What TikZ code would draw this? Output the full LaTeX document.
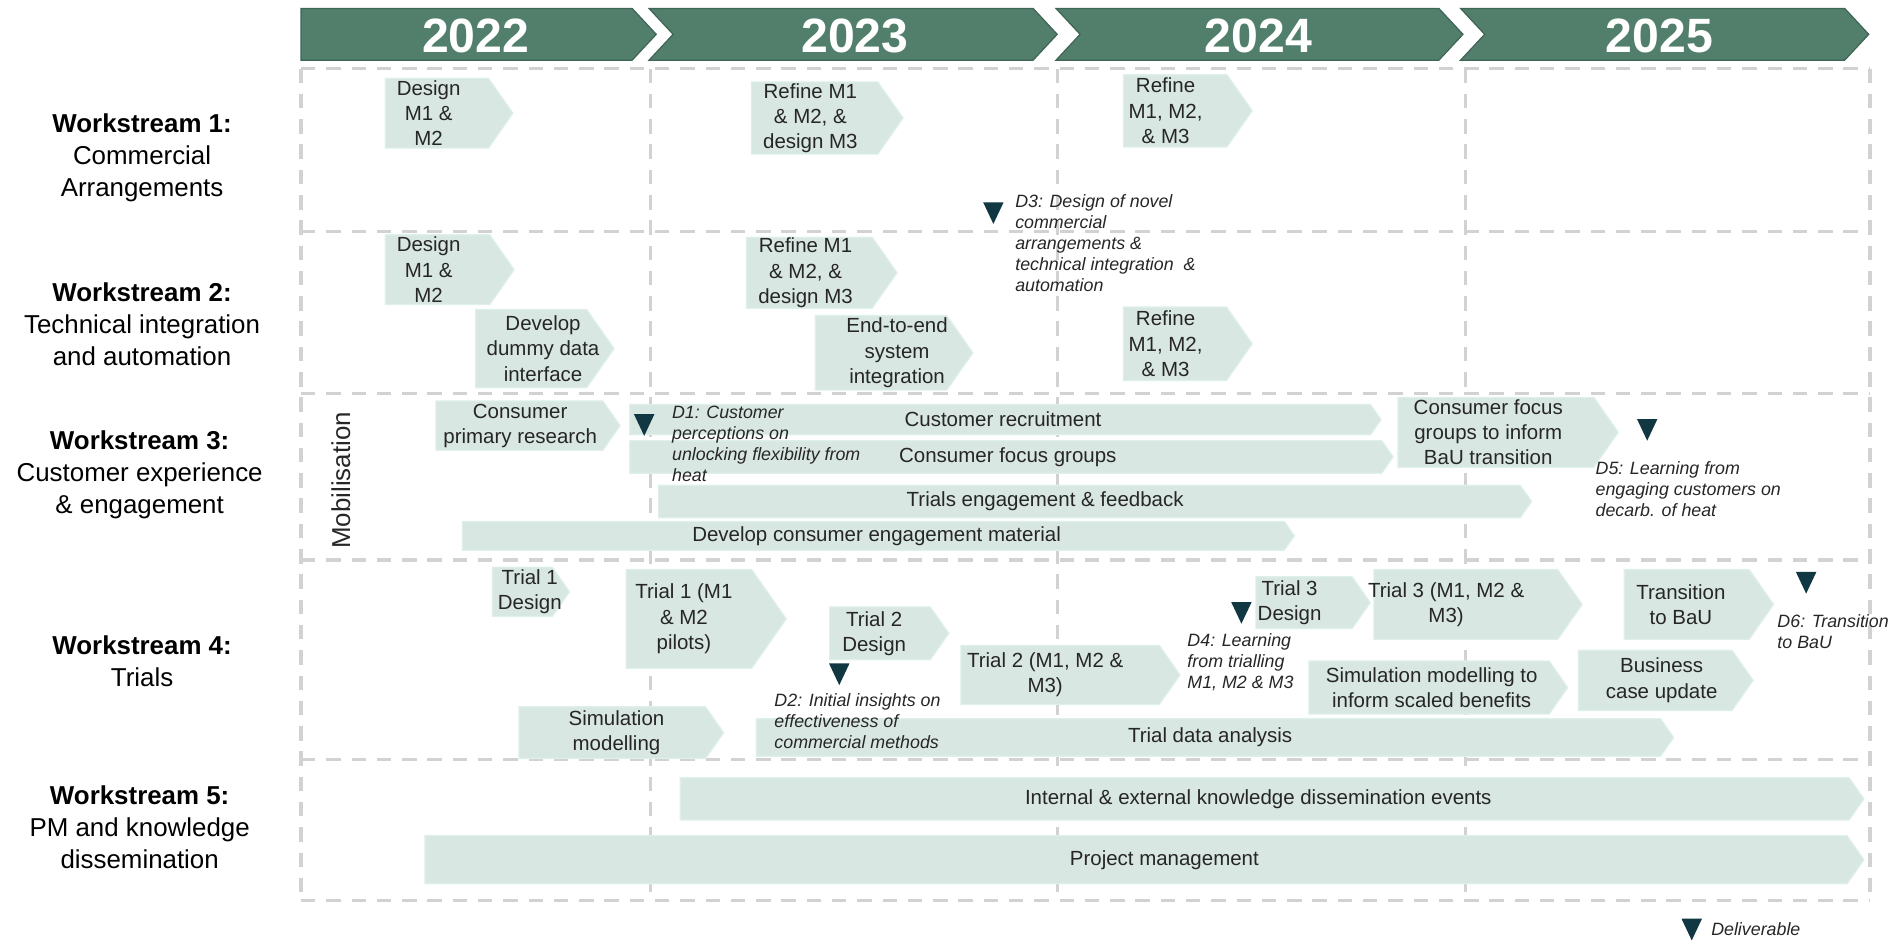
\documentclass[tikz,border=0pt]{standalone}
\usepackage{fontspec}
\setmainfont{Liberation Sans}
\usetikzlibrary{positioning}

\definecolor{bannerfill}{RGB}{81,127,108}
\definecolor{bannerline}{RGB}{62,101,85}
\definecolor{taskfill}{RGB}{217,231,226}
\definecolor{taskline}{RGB}{222,240,235}
\definecolor{delivfill}{RGB}{17,56,66}
\definecolor{gridgray}{RGB}{210,210,210}
\definecolor{txtgray}{RGB}{38,38,38}

\tikzset{
  banner/.style={fill=bannerfill, draw=bannerline, line width=1pt},
  yeartext/.style={text=white, font=\fontsize{40}{48}\selectfont\bfseries, inner sep=0pt},
  gridline/.style={draw=gridgray, line width=2.8pt, dash pattern=on 12pt off 9pt},
  taskbox/.style={fill=taskfill, draw=taskline, line width=1pt},
  tasktext/.style={text=txtgray, font=\fontsize{17}{21}\selectfont, align=center, inner sep=0pt},
  wstext/.style={font=\fontsize{21.5}{26.5}\selectfont, align=center, inner sep=0pt},
  delivtext/.style={text=txtgray, font=\fontsize{14.8}{17.5}\selectfont\itshape, align=left, inner sep=0pt, anchor=north west},
  deliv/.pic={\fill[delivfill] (-8.5,0) -- (8.5,0) -- (0,18) -- cycle;}
}

% name, left, top, tip, bottom, text x, text
\newcommand{\taskbar}[7]{%
  \path[taskbox] (#2,#3) -- ({#4-0.35*(#5-#3)},#3) -- (#4,{(#3+#5)/2})
    -- ({#4-0.35*(#5-#3)},#5) -- (#2,#5) -- cycle;
  \node[tasktext] (#1) at (#6,{(#3+#5)/2}) {#7};}

\begin{document}
\begin{tikzpicture}[x=1pt, y=-1pt]
\useasboundingbox (0,0) rectangle (1568,782);

\foreach \y in {57,192,327,465,631,748}
  \draw[gridline] (250,\y) -- (1553,\y);
\foreach \x in {250,540,878,1217,1553}
  \draw[gridline] (\x,57) -- (\x,748);

\path[banner] (250,7) -- (525,7) -- (545,28.5) -- (525,50) -- (250,50) -- cycle;
\path[banner] (539,7) -- (858,7) -- (878,28.5) -- (858,50) -- (539,50) -- (559,28.5) -- cycle;
\path[banner] (877,7) -- (1195,7) -- (1215,28.5) -- (1195,50) -- (877,50) -- (897,28.5) -- cycle;
\path[banner] (1213,7) -- (1532,7) -- (1552,28.5) -- (1532,50) -- (1213,50) -- (1233,28.5) -- cycle;
\node[yeartext] (y2022) at (395,30) {2022};
\node[yeartext] (y2023) at (710,30) {2023};
\node[yeartext] (y2024) at (1045,30) {2024};
\node[yeartext] (y2025) at (1378,30) {2025};

\begin{scope}[every node/.style={wstext}]
\node (ws1) at (118,131) {\textbf{Workstream 1:}\\Commercial\\Arrangements};
\node (ws2) at (118,269) {\textbf{Workstream 2:}\\Technical integration\\and automation};
\node (ws3) at (116,394) {\textbf{Workstream 3:}\\Customer experience\\\& engagement};
\node (ws4) at (118,549.5) {\textbf{Workstream 4:}\\Trials};
\node (ws5) at (116,687) {\textbf{Workstream 5:}\\PM and knowledge\\dissemination};
\end{scope}

\node[rotate=90, font=\fontsize{21.5}{26}\selectfont, text=txtgray, inner sep=0pt] (mobil) at (283,399) {Mobilisation};

\taskbar{ws1design}{320}{65}{426}{123}{356}{Design\\M1 \&\\M2}
\taskbar{ws1refine}{624}{68}{750}{128}{673}{Refine M1\\\& M2, \&\\design M3}
\taskbar{ws1refinetwo}{933}{62}{1040}{122}{968}{Refine\\M1, M2,\\\& M3}

\taskbar{ws2design}{320}{195}{427}{253}{356}{Design\\M1 \&\\M2}
\taskbar{ws2refine}{620}{197}{745}{256}{669}{Refine M1\\\& M2, \&\\design M3}
\taskbar{dummy}{395}{257}{510}{322}{451}{Develop\\dummy data\\interface}
\taskbar{endtoend}{677}{262}{808}{324}{745}{End-to-end\\system\\integration}
\taskbar{ws2refinetwo}{933}{255}{1040}{316}{968}{Refine\\M1, M2,\\\& M3}

\taskbar{primary}{362}{333}{515}{374}{432}{Consumer\\primary research}
\taskbar{recruit}{523}{336}{1147}{361}{833}{Customer recruitment}
\taskbar{focus}{523}{366}{1157}{393}{837}{Consumer focus groups}
\taskbar{focusbau}{1161}{330}{1344}{388}{1236}{Consumer focus\\groups to inform\\BaU transition}
\node[delivtext] (d1) at (558,337) {D1: Customer\\perceptions on\\unlocking flexibility from\\heat};
\taskbar{engage}{547}{403}{1272}{430}{868}{Trials engagement \& feedback}
\taskbar{material}{384}{433}{1075}{457}{728}{Develop consumer engagement material}

\taskbar{trialonedes}{409}{471}{473}{512}{440}{Trial 1\\Design}
\taskbar{trialone}{520}{473}{653}{555}{568}{Trial 1 (M1\\\& M2\\pilots)}
\taskbar{trialtwodes}{689}{504}{788}{548}{726}{Trial 2\\Design}
\taskbar{trialtwo}{798}{536}{980}{585}{868}{Trial 2 (M1, M2 \&\\M3)}
\taskbar{trialthreedes}{1043}{479}{1138}{522}{1071}{Trial 3\\Design}
\taskbar{trialthree}{1141}{473}{1314}{531}{1201}{Trial 3 (M1, M2 \&\\M3)}
\taskbar{tobau}{1349}{473}{1473}{531}{1396}{Transition\\to BaU}
\taskbar{simscaled}{1087}{549}{1302}{593}{1189}{Simulation modelling to\\inform scaled benefits}
\taskbar{business}{1311}{540}{1456}{590}{1380}{Business\\case update}
\taskbar{simmodel}{431}{587}{601}{630}{512}{Simulation\\modelling}
\taskbar{analysis}{628}{597}{1390}{628}{1005}{Trial data analysis}

\taskbar{events}{565}{646}{1548}{681}{1045}{Internal \& external knowledge dissemination events}
\taskbar{pm}{353}{694}{1548}{734}{967}{Project management}

\pic at (825,168) {deliv};
\node[delivtext] (d3) at (843,161) {D3: Design of novel\\commercial\\arrangements \&\\technical integration \ \&\\automation};
\pic at (535,344) {deliv};
\pic at (1368,348) {deliv};
\node[delivtext] (d5) at (1325,383) {D5: Learning from\\engaging customers on\\decarb. of heat};
\pic at (697,551) {deliv};
\node[delivtext] (d2) at (643,576) {D2: Initial insights on\\effectiveness of\\commercial methods};
\pic at (1031,500) {deliv};
\node[delivtext] (d4) at (986,526) {D4: Learning\\from trialling\\M1, M2 \& M3};
\pic at (1500,475) {deliv};
\node[delivtext] (d6) at (1476,510) {D6: Transition\\to BaU};

\pic at (1405,763) {deliv};
\node[delivtext, anchor=west] (legend) at (1421,772) {Deliverable};

\end{tikzpicture}
\end{document}
